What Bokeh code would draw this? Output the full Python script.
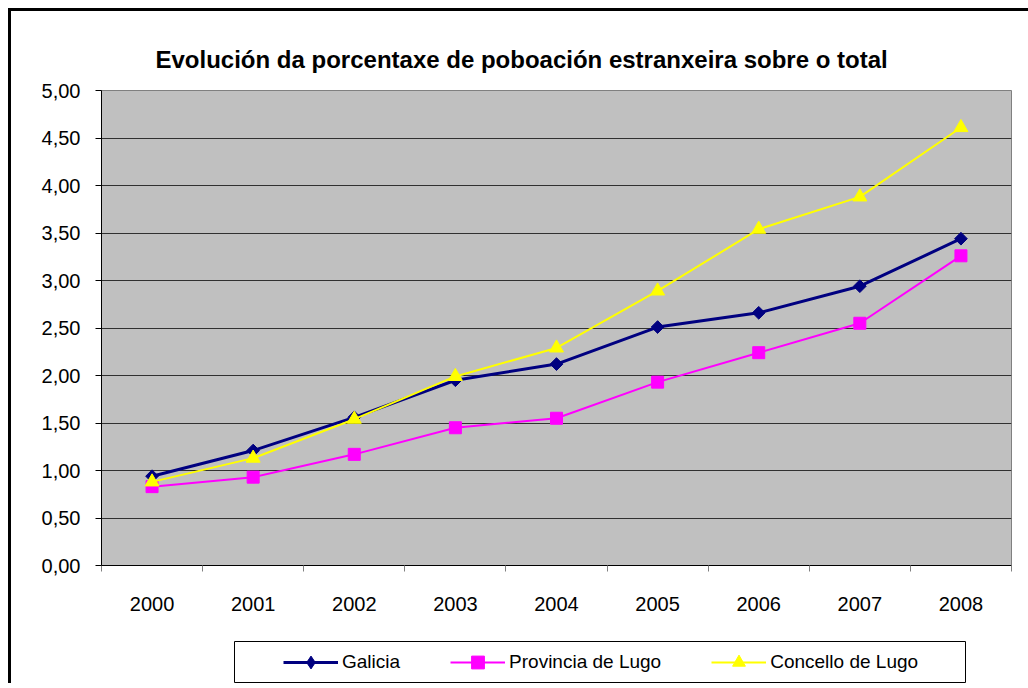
import math
from bokeh.plotting import figure
from bokeh.layouts import column, row
from bokeh.models import (Range1d, FixedTicker, CustomJSTickFormatter, Legend,
                          LegendItem, Spacer)
from bokeh.embed import file_html
from bokeh.resources import INLINE

years = ["2000", "2001", "2002", "2003", "2004", "2005", "2006", "2007", "2008"]
galicia = [0.94, 1.21, 1.56, 1.95, 2.12, 2.51, 2.66, 2.94, 3.44]
provincia_lugo = [0.83, 0.93, 1.17, 1.45, 1.55, 1.93, 2.24, 2.55, 3.26]
concello_lugo = [0.88, 1.13, 1.54, 1.99, 2.29, 2.89, 3.54, 3.88, 4.61]
y_ticks = [0.0, 0.5, 1.0, 1.5, 2.0, 2.5, 3.0, 3.5, 4.0, 4.5, 5.0]
title_text = "Evolución da porcentaxe de poboación estranxeira sobre o total"
series_names = ["Galicia", "Provincia de Lugo", "Concello de Lugo"]

FONT = "Liberation Sans"
NAVY, MAGENTA, YELLOW = "#000080", "#FF00FF", "#FFFF00"
n = len(years)
xs = [i + 0.5 for i in range(n)]
series = [galicia, provincia_lugo, concello_lugo]

p = figure(width=1017, height=619, x_range=Range1d(0, n), y_range=Range1d(0, 5),
           output_backend="svg", toolbar_location=None,
           min_border_left=90, min_border_right=17, min_border_top=79, min_border_bottom=65,
           background_fill_color="#C0C0C0", border_fill_color="white")

p.outline_line_color = "#808080"
p.outline_line_width = 1

# title
p.title.text = title_text
p.title.text_font = FONT
p.title.text_font_style = "bold"
p.title.text_font_size = "24px"
p.title.align = "left"
p.title.offset = 54
p.title.standoff = 36
p.title.text_color = "black"

# grid
p.xgrid.grid_line_color = None
p.ygrid.grid_line_color = "#303030"
p.ygrid.grid_line_width = 1
p.ygrid.ticker = FixedTicker(ticks=y_ticks)

# y axis
ya = p.yaxis[0]
ya.ticker = FixedTicker(ticks=y_ticks)
ya.formatter = CustomJSTickFormatter(code="return tick.toFixed(2).replace('.', ',');")
ya.axis_line_color = "black"
ya.major_tick_line_color = "black"
ya.major_tick_out = 6
ya.major_tick_in = 0
ya.minor_tick_line_color = None
ya.major_label_text_font = FONT
ya.major_label_text_font_size = "20px"
ya.major_label_text_color = "black"
ya.major_label_standoff = 15

# x axis
xa = p.xaxis[0]
xa.ticker = FixedTicker(ticks=xs, minor_ticks=list(range(n + 1)))
xa.major_label_overrides = {x: y for x, y in zip(xs, years)}
xa.axis_line_color = "black"
xa.major_tick_line_color = None
xa.major_tick_out = 6
xa.major_tick_in = 0
xa.minor_tick_line_color = "#808080"
xa.minor_tick_out = 6
xa.minor_tick_in = 0
xa.major_label_text_font = FONT
xa.major_label_text_font_size = "20px"
xa.major_label_text_color = "black"
xa.major_label_standoff = 25

# series
styles = [
    dict(color=NAVY, lw=3, marker="square", angle=math.pi / 4, size=9, lmarker="diamond"),
    dict(color=MAGENTA, lw=2, marker="square", angle=0.0, size=12, lmarker="square"),
    dict(color=YELLOW, lw=2, marker="triangle", angle=0.0, size=14, lmarker="triangle"),
]
for vals, st in zip(series, styles):
    p.line(xs, vals, line_color=st["color"], line_width=st["lw"])
    p.scatter(xs, vals, marker=st["marker"], angle=st["angle"], size=st["size"],
              fill_color=st["color"], line_color=st["color"])

# legend box as its own small figure (its frame is the legend box)
lf = figure(width=732, height=42, x_range=Range1d(100, 101), y_range=Range1d(100, 101),
            output_backend="svg", toolbar_location=None,
            x_axis_type=None, y_axis_type=None,
            min_border_left=0, min_border_right=0, min_border_top=0, min_border_bottom=0,
            background_fill_color="white", border_fill_color="white",
            outline_line_color="black", outline_line_width=1)
lf.xgrid.grid_line_color = None
lf.ygrid.grid_line_color = None

items = []
for name, vals, st in zip(series_names, series, styles):
    # same data, outside this figure's visible range: only the legend glyphs show
    lr = lf.line(xs, vals, line_color=st["color"], line_width=st["lw"])
    mr = lf.scatter(xs, vals, marker=st["lmarker"], size=st["size"],
                    fill_color=st["color"], line_color=st["color"])
    items.append(LegendItem(label=name, renderers=[lr, mr]))

legend = Legend(items=items, location=(49, 5), orientation="horizontal",
                glyph_width=55, glyph_height=32, label_standoff=4, spacing=50,
                padding=0, border_line_color=None, background_fill_alpha=0,
                label_text_font=FONT, label_text_font_size="19px",
                label_text_color="black")
lf.add_layout(legend, "center")

legend_row = row(Spacer(width=223, height=42), lf)
inner = column(p, Spacer(width=1017, height=11), legend_row,
               styles={"border-left": "3px solid black", "border-top": "3px solid black"})
outer = column(inner, styles={"padding-left": "8px", "padding-top": "8px"})

open("out.html", "w").write(file_html(outer, INLINE))
